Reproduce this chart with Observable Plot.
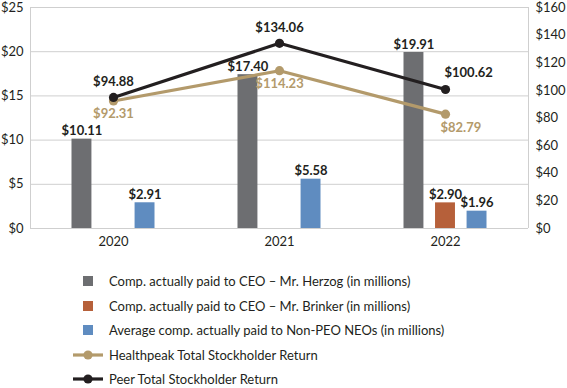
<!DOCTYPE html>
<html>
<head>
<meta charset="utf-8">
<script src="https://cdn.jsdelivr.net/npm/d3@7"></script>
<script src="https://cdn.jsdelivr.net/npm/@observablehq/plot@0.6"></script>
<style>
  body { margin: 0; background: #fff; font-family: Lato, "Open Sans", sans-serif; overflow: hidden; }
  #legend { margin-top: 17px; padding-left: 73px; }
  .row { display: flex; align-items: center; height: 24.5px; font-size: 13px; color: #231f20; white-space: nowrap; }
  .sw { width: 30px; height: 12px; margin-right: 6px; display: flex; align-items: center; justify-content: center; }
</style>
</head>
<body>
<div id="chart"></div>
<div id="legend"></div>
<script>
const years = [2020, 2021, 2022];
const herzog = [10.11, 17.40, 19.91];
const brinker = [null, null, 2.90];
const nonPeo = [2.91, 5.58, 1.96];
const healthpeakTSR = [92.31, 114.23, 82.79];
const peerTSR = [94.88, 134.06, 100.62];
const leftTicks = [0, 5, 10, 15, 20, 25];
const rightTicks = [0, 20, 40, 60, 80, 100, 120, 140, 160];

const barSeries = [
  {name: "Comp. actually paid to CEO – Mr. Herzog (in millions)", values: herzog, color: "#6d6e71", slot: -1},
  {name: "Comp. actually paid to CEO – Mr. Brinker (in millions)", values: brinker, color: "#b6603a", slot: 0},
  {name: "Average comp. actually paid to Non-PEO NEOs (in millions)", values: nonPeo, color: "#5f8cc0", slot: 1}
];
const lineSeries = [
  {name: "Healthpeak Total Stockholder Return", values: healthpeakTSR, color: "#b39a6b"},
  {name: "Peer Total Stockholder Return", values: peerTSR, color: "#231f20"}
];

const leftMax = 25, rightMax = 160;
const toLeft = v => v * leftMax / rightMax;
const step = 0.19, bw = 0.12;

const bars = [];
barSeries.forEach(s => years.forEach((y, i) => {
  if (s.values[i] != null) bars.push({year: y, value: s.values[i], color: s.color, slot: s.slot});
}));
const pts = (s) => years.map((y, i) => ({year: y, tsr: s.values[i], color: s.color}));
const hp = pts(lineSeries[0]);
const peer = pts(lineSeries[1]);

const fmt = v => "$" + v.toFixed(2);
const font = "Lato, 'Open Sans', sans-serif";

const chart = Plot.plot({
  width: 567,
  height: 252,
  marginLeft: 30,
  marginRight: 39,
  marginTop: 7,
  marginBottom: 24,
  style: {fontFamily: font, fontSize: "13px", color: "#231f20"},
  x: {type: "linear", domain: [2019.5, 2022.5], axis: null},
  y: {domain: [0, leftMax], axis: null},
  marks: [
    Plot.ruleY(leftTicks, {stroke: "#cfcfcf", strokeWidth: 1}),
    Plot.ruleX([2019.5, 2022.5], {stroke: "#cfcfcf", strokeWidth: 1}),
    Plot.axisX(years, {label: null, tickSize: 0, tickPadding: 8, tickFormat: d => String(d), fontSize: 13, fill: "#231f20"}),
    Plot.axisY(leftTicks, {label: null, anchor: "left", tickSize: 0, tickPadding: 7, tickFormat: d => "$" + d, fontSize: 13, fill: "#231f20"}),
    Plot.axisY(rightTicks.map(toLeft), {label: null, anchor: "right", tickSize: 0, tickPadding: 7, textAnchor: "start", tickFormat: d => "$" + Math.round(d * rightMax / leftMax), fontSize: 13, fill: "#231f20"}),
    Plot.rectY(bars, {x1: d => d.year + d.slot * step - bw / 2, x2: d => d.year + d.slot * step + bw / 2, y: "value", fill: d => d.color}),
    Plot.text(bars, {x: d => d.year + d.slot * step, y: "value", text: d => fmt(d.value), dy: -8, fontWeight: 700, fontSize: 13, fill: "#231f20"}),
    Plot.line(hp, {x: "year", y: d => toLeft(d.tsr), stroke: lineSeries[0].color, strokeWidth: 3.2}),
    Plot.dot(hp, {x: "year", y: d => toLeft(d.tsr), r: 4.6, fill: lineSeries[0].color}),
    Plot.line(peer, {x: "year", y: d => toLeft(d.tsr), stroke: lineSeries[1].color, strokeWidth: 3.2}),
    Plot.dot(peer, {x: "year", y: d => toLeft(d.tsr), r: 4.6, fill: lineSeries[1].color}),
    Plot.text(peer.filter(d => d.year < 2022), {x: "year", y: d => toLeft(d.tsr), text: d => fmt(d.tsr), dy: -16, fontWeight: 700, fontSize: 13, fill: lineSeries[1].color}),
    Plot.text(peer.filter(d => d.year === 2022), {x: "year", y: d => toLeft(d.tsr), text: d => fmt(d.tsr), dy: -17, dx: -1, textAnchor: "start", fontWeight: 700, fontSize: 13, fill: lineSeries[1].color}),
    Plot.text(hp.filter(d => d.year < 2022), {x: "year", y: d => toLeft(d.tsr), text: d => fmt(d.tsr), dy: 13, fontWeight: 700, fontSize: 13, fill: lineSeries[0].color}),
    Plot.text(hp.filter(d => d.year === 2022), {x: "year", y: d => toLeft(d.tsr), text: d => fmt(d.tsr), dy: 14, dx: -5, textAnchor: "start", fontWeight: 700, fontSize: 13, fill: lineSeries[0].color})
  ]
});
document.getElementById("chart").append(chart);

const legend = document.getElementById("legend");
barSeries.forEach(s => {
  const row = document.createElement("div");
  row.className = "row";
  row.innerHTML = `<div class="sw"><div style="width:10px;height:10px;background:${s.color}"></div></div><span>${s.name}</span>`;
  legend.append(row);
});
lineSeries.forEach(s => {
  const row = document.createElement("div");
  row.className = "row";
  row.innerHTML = `<div class="sw"><svg width="30" height="12"><line x1="0" y1="6" x2="30" y2="6" stroke="${s.color}" stroke-width="3.2"/><circle cx="15" cy="6" r="4.6" fill="${s.color}"/></svg></div><span>${s.name}</span>`;
  legend.append(row);
});
</script>
</body>
</html>
